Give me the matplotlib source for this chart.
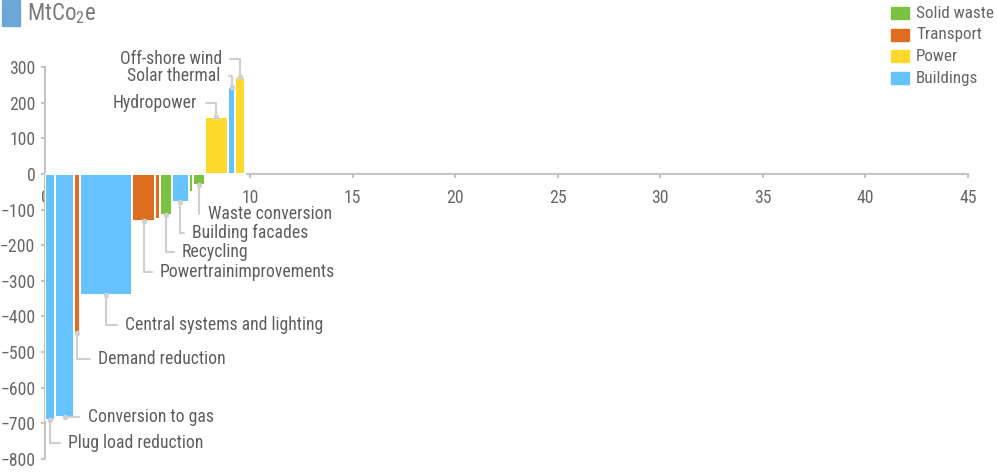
import numpy as np
import matplotlib
matplotlib.use("Agg")
import matplotlib.pyplot as plt
from matplotlib import font_manager
from matplotlib.patches import Rectangle

# ---------------------------------------------------------------------------
# data
# ---------------------------------------------------------------------------
measures = ["Plug load reduction", "Conversion to gas", "Demand reduction",
            "Central systems and lighting", "Powertrainimprovements", "",
            "Recycling", "Building facades", "", "Waste conversion",
            "Hydropower", "Solar thermal", "Off-shore wind"]
sectors = ["Buildings", "Buildings", "Transport", "Buildings", "Transport",
           "Transport", "Solid waste", "Buildings", "Solid waste",
           "Solid waste", "Power", "Buildings", "Power"]
widths = [0.50, 0.93, 0.29, 2.54, 1.12, 0.24, 0.55, 0.85, 0.19, 0.57,
          1.14, 0.36, 0.47]
values = [-690, -683, -447, -340, -132, -126, -115, -80, -50, -32,
          160, 245, 273]

legend_order = ["Solid waste", "Transport", "Power", "Buildings"]
x_ticks = np.arange(0, 50, 5)
y_ticks = np.arange(-800, 400, 100)

# ---------------------------------------------------------------------------
# style
# ---------------------------------------------------------------------------
colors = {"Buildings": "#66c2fd", "Transport": "#de6d1f",
          "Solid waste": "#7cc242", "Power": "#fdd92b"}
TEXT = "#666666"
LINE = "#c4c4c4"


def pick_font(names):
    for n in names:
        try:
            font_manager.findfont(n, fallback_to_default=False)
            return n
        except ValueError:
            pass
    return "DejaVu Sans"


FONT = pick_font(["Liberation Sans Narrow", "Roboto Condensed", "Roboto"])
narrow = FONT != "Roboto"
fs = 12.7 if narrow else 10.5
plt.rcParams["font.family"] = [FONT, "DejaVu Sans"]
plt.rcParams["mathtext.fontset"] = "custom"
plt.rcParams["mathtext.rm"] = FONT

# label offsets in pixels from the bar end (dx, dy)
offsets = {
    "Plug load reduction": (18, -23),
    "Conversion to gas": (23, 0),
    "Demand reduction": (21, -26),
    "Central systems and lighting": (19, -30),
    "Powertrainimprovements": (16, -51),
    "Recycling": (16, -37),
    "Building facades": (12, -31),
    "Waste conversion": (9, -29),
    "Hydropower": (-19, 14),
    "Solar thermal": (-11, 11),
    "Off-shore wind": (-18, 18),
}

fig = plt.figure(figsize=(9.97, 4.72), dpi=100)
ax = fig.add_axes([45 / 997, 1 - 459 / 472, 923 / 997, 392 / 472])

lefts = np.concatenate([[0], np.cumsum(widths)[:-1]])
centers = lefts + np.array(widths) / 2
ax.bar(lefts, values, width=widths, align="edge",
       color=[colors[s] for s in sectors], edgecolor="white", linewidth=1.4,
       zorder=2)

ax.set_xlim(0, 45)
ax.set_ylim(-800, 300)
ax.set_axisbelow(True)

for side in ["top", "right"]:
    ax.spines[side].set_visible(False)
ax.spines["bottom"].set_position(("data", 0))
ax.spines["bottom"].set_bounds(0, 45)
ax.spines["left"].set_bounds(-800, 300)
for side in ["bottom", "left"]:
    ax.spines[side].set_color(LINE)
    ax.spines[side].set_linewidth(1.5)
    ax.spines[side].set_zorder(1.5)

ax.set_xticks(x_ticks)
ax.set_yticks(y_ticks)
ax.tick_params(axis="x", direction="out", length=3, width=1.5, color=LINE,
               pad=8, labelsize=fs, labelcolor=TEXT)
ax.tick_params(axis="y", direction="out", length=3, width=1.5, color=LINE,
               pad=4, labelsize=fs, labelcolor=TEXT)

# leader lines and labels
for name, cx, v in zip(measures, centers, values):
    if not name:
        continue
    dx, dy = offsets[name]
    ha = "left" if dx > 0 else "right"
    ax.annotate(name, xy=(cx, v), xytext=(dx, dy), textcoords="offset pixels",
                ha=ha, va="center", fontsize=fs, color="#5e5e5e",
                annotation_clip=False, zorder=5,
                arrowprops=dict(arrowstyle="-", color="#cfcfcf", lw=1.5,
                                connectionstyle="angle,angleA=0,angleB=90,rad=0",
                                shrinkA=4, shrinkB=0,
                                relpos=(0 if dx > 0 else 1, 0.5)))
    ax.scatter([cx], [v], s=16, color="#d2d2d2", zorder=4, clip_on=False,
               linewidths=0)

# title unit box
fig.patches.append(Rectangle((2 / 997, 1 - 26 / 472), 18 / 997, 26 / 472,
                             transform=fig.transFigure, color="#6ba7d7"))
fig.text(27 / 997, 1 - 14 / 472, r"MtCo$_{\mathregular{2}}$e",
         fontsize=fs * 1.3, color="#7a7a7a", va="center", ha="left")

# legend
for i, name in enumerate(legend_order):
    yc = 13 + i * 21.7
    fig.patches.append(Rectangle((891 / 997, 1 - (yc + 6) / 472), 18 / 997,
                                 12 / 472, transform=fig.transFigure,
                                 color=colors[name]))
    fig.text(916 / 997, 1 - yc / 472, name, fontsize=fs * 0.97, color=TEXT,
             va="center", ha="left")

fig.savefig("out.png", dpi=100)
